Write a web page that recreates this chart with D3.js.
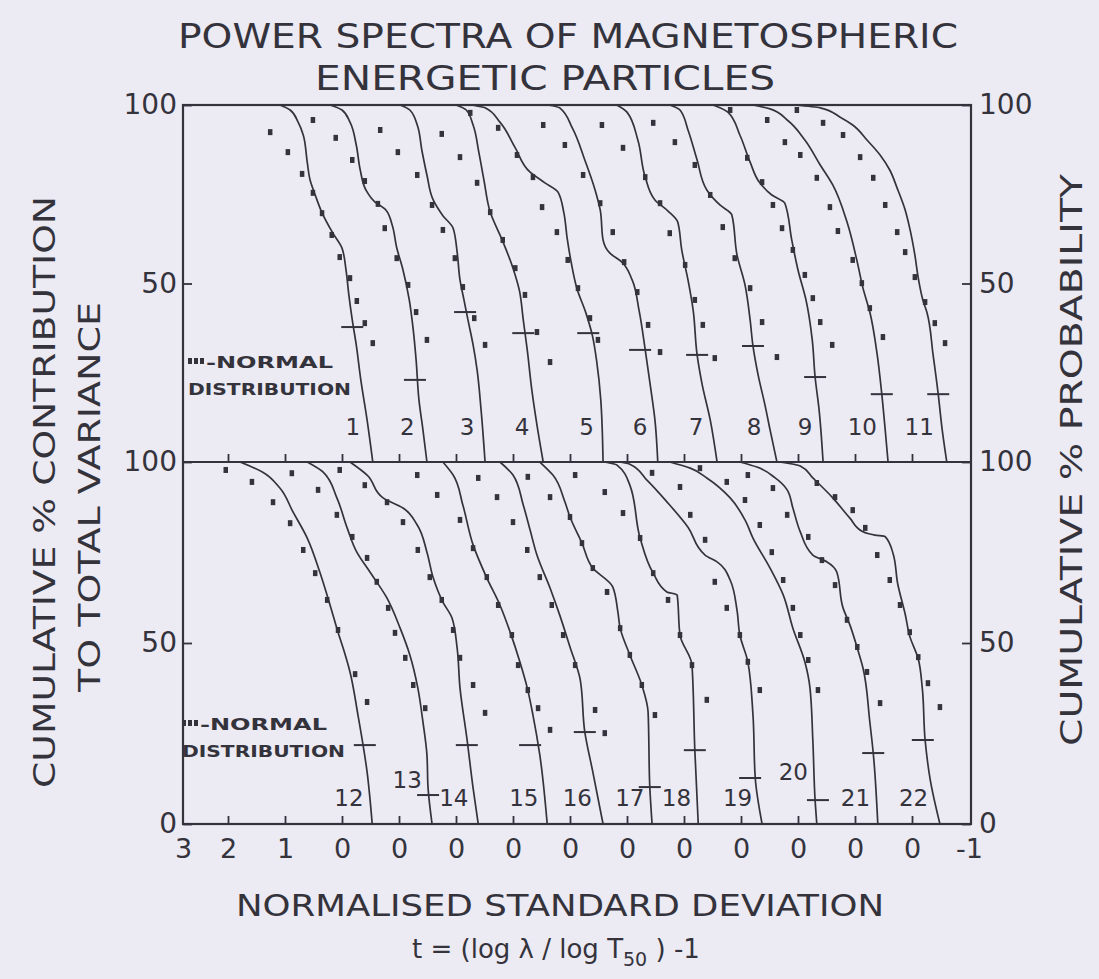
<!DOCTYPE html>
<html>
<head>
<meta charset="utf-8">
<script src="https://cdn.jsdelivr.net/npm/d3@7"></script>
<style>
body { margin: 0; background: #eceaf3; }
svg text { font-family: "DejaVu Sans", sans-serif; fill: #34333c; }
</style>
</head>
<body>
<script>
// ---- data: t = normalised standard deviation of each spectrum, pct = cumulative %
var topIds = [1, 2, 3, 4, 5, 6, 7, 8, 9, 10, 11];
var bottomIds = [12, 13, 14, 15, 16, 17, 18, 19, 20, 21, 22];

var tickValues = [3, 2, 1, 0, -1, -2, -3, -4, -5, -6, -7, -8, -9, -10, -11];
var tickLabels = ['3', '2', '1', '0', '0', '0', '0', '0', '0', '0', '0', '0', '0', '0', '-1'];
var pctTicksTop = [100, 50];
var pctTicksBottom = [100, 50, 0];

var topLines = [
    [[1.09,100],[0.91,98.6],[0.77,95.2],[0.68,91.6],[0.61,84.0],[0.56,79.0],[0.47,74.8],[0.35,69.8],[0.16,64.1],[0,59.9],[-0.07,53.8],[-0.12,46.8],[-0.18,39.8],[-0.25,32.8],[-0.33,23.0],[-0.44,11.8],[-0.54,0]],
    [[1.21,100],[1.0,98.6],[0.86,95.2],[0.75,88.8],[0.68,81.8],[0.58,76.2],[0.42,72.8],[0.23,70.6],[0.12,66.4],[0.04,60.0],[-0.07,53.8],[-0.18,45.4],[-0.25,37.0],[-0.30,28.6],[-0.35,17.4],[-0.42,9.0],[-0.49,0]],
    [[0.98,100],[0.81,98.6],[0.68,94.4],[0.60,87.4],[0.51,80.4],[0.40,73.4],[0.23,69.0],[0.05,65.5],[-0.02,58.8],[-0.07,51.0],[-0.14,45.4],[-0.21,39.8],[-0.30,32.8],[-0.37,25.8],[-0.44,14.6],[-0.51,0]],
    [[1.0,100],[0.82,98.6],[0.70,94.4],[0.60,86.8],[0.51,79.0],[0.40,70.0],[0.19,62.2],[0,54.3],[-0.11,48.2],[-0.18,39.8],[-0.25,31.4],[-0.33,20.2],[-0.42,10.4],[-0.53,0]],
    [[1.72,100],[1.49,99.2],[1.23,95.2],[0.96,88.0],[0.70,81.2],[0.44,78.2],[0.21,75.6],[0.11,70.0],[0.05,62.7],[-0.02,56.0],[-0.12,48.7],[-0.28,41.7],[-0.39,35.6],[-0.47,28.0],[-0.54,17.4],[-0.58,0]],
    [[1.39,100],[1.18,99.2],[0.96,93.6],[0.74,84.6],[0.56,76.2],[0.47,70.6],[0.42,62.2],[0.30,58.5],[0.09,56.0],[-0.09,51.0],[-0.21,42.6],[-0.32,31.4],[-0.42,20.2],[-0.49,11.8],[-0.54,0]],
    [[1.18,100],[1.0,98.0],[0.81,90.2],[0.68,79.8],[0.51,73.4],[0.28,70.3],[0.11,67.2],[0.04,59.4],[-0.07,51.0],[-0.16,42.6],[-0.23,30.0],[-0.32,21.6],[-0.46,11.8],[-0.58,0]],
    [[1.25,100],[1.07,98.6],[0.93,93.0],[0.77,84.6],[0.60,76.2],[0.37,72.0],[0.16,69.2],[0.07,58.0],[-0.07,49.6],[-0.16,39.8],[-0.21,32.5],[-0.30,24.4],[-0.42,16.0],[-0.51,9.0],[-0.63,0]],
    [[1.49,100],[1.23,98.0],[1.02,91.6],[0.84,84.0],[0.67,78.2],[0.46,74.8],[0.23,72.5],[0.11,62.2],[0,53.8],[-0.14,45.4],[-0.25,34.2],[-0.30,23.8],[-0.37,14.6],[-0.44,0]],
    [[1.79,100],[1.49,98.9],[1.19,95.8],[0.88,90.2],[0.61,83.2],[0.39,77.6],[0.14,67.2],[-0.04,56.0],[-0.14,48.7],[-0.26,42.0],[-0.39,30.0],[-0.47,19.0],[-0.53,9.0],[-0.58,0]],
    [[2.05,100],[1.61,99.2],[1.26,96.6],[1.04,94.4],[0.79,90.2],[0.56,86.0],[0.39,81.8],[0.26,76.7],[0.12,70.6],[0.04,65.5],[-0.05,58.0],[-0.11,51.5],[-0.19,45.4],[-0.26,42.0],[-0.37,30.0],[-0.46,19.0],[-0.53,9.0],[-0.61,0]]
];

var topDots = [
    [[1.26,92.4],[0.95,86.8],[0.70,80.7],[0.51,75.4],[0.35,69.7],[0.18,63.6],[0.04,57.4],[-0.14,51.5],[-0.26,45.1],[-0.40,38.9],[-0.54,33.3]],
    [[1.51,95.8],[1.11,90.8],[0.82,84.6],[0.60,78.7],[0.37,72.3],[0.25,65.5],[0.04,57.1],[-0.16,49.6],[-0.30,42.0],[-0.49,34.2]],
    [[1.33,93.0],[1.02,86.8],[0.68,80.4],[0.42,72.0],[0.23,65.0],[0.02,57.1],[-0.12,49.0],[-0.32,40.3],[-0.51,32.8]],
    [[1.25,91.9],[0.93,85.4],[0.63,78.2],[0.40,70.0],[0.18,62.2],[-0.04,54.3],[-0.21,46.8],[-0.42,36.4],[-0.65,28.0]],
    [[1.75,97.8],[1.26,93.6],[0.93,86.0],[0.65,79.8],[0.49,71.4],[0.23,64.4],[0.04,56.6],[-0.14,48.7],[-0.35,40.3],[-0.49,34.2]],
    [[1.47,94.4],[1.09,88.8],[0.77,80.4],[0.47,72.5],[0.25,64.4],[0.05,56.0],[-0.18,47.6],[-0.37,38.4],[-0.58,30.8]],
    [[1.44,94.4],[1.07,88.0],[0.68,79.8],[0.42,72.5],[0.25,64.1],[-0.02,55.2],[-0.19,45.4],[-0.33,38.4],[-0.54,29.1]],
    [[1.54,95.0],[1.16,89.6],[0.81,83.2],[0.54,74.8],[0.32,65.8],[0.11,57.1],[-0.16,48.7],[-0.37,39.2],[-0.63,29.4]],
    [[1.19,98.6],[0.89,85.2],[0.63,78.4],[0.44,72.0],[0.28,65.5],[0.09,59.4],[-0.12,52.4],[-0.26,45.9],[-0.39,39.2],[-0.60,32.8]],
    [[1.54,95.8],[1.23,89.6],[0.96,86.0],[0.67,79.6],[0.44,71.4],[0.30,64.7],[0.04,56.6],[-0.12,50.1],[-0.26,43.1],[-0.49,35.0]],
    [[2.02,98.6],[1.56,95.0],[1.21,91.6],[0.91,85.4],[0.68,79.6],[0.47,72.0],[0.26,64.4],[0.12,58.8],[-0.05,51.8],[-0.23,44.8],[-0.40,38.9],[-0.58,33.3]]
];

var topMarks = [[-0.18,37.8],[-0.28,23.0],[-0.16,42.0],[-0.18,36.1],[-0.32,36.1],[-0.23,31.4],[-0.23,30.0],[-0.21,32.5],[-0.30,23.8],[-0.47,19.0],[-0.46,19.0]];

var bottomLines = [
    [[1.79,100],[1.39,97.2],[1.09,92.8],[0.86,86.2],[0.61,79.0],[0.39,69.6],[0.21,60.5],[0.07,53.0],[-0.02,48.6],[-0.14,42.0],[-0.28,30.1],[-0.44,14.4],[-0.53,0]],
    [[1.61,100],[1.33,97.2],[1.09,90.1],[0.91,81.8],[0.74,75.1],[0.51,69.6],[0.21,62.4],[-0.02,54.1],[-0.19,46.7],[-0.33,37.6],[-0.42,28.2],[-0.49,19.1],[-0.51,9.9],[-0.58,0]],
    [[1.86,100],[1.56,96.4],[1.28,90.1],[0.93,87.3],[0.68,82.6],[0.51,75.1],[0.40,68.0],[0.23,61.3],[0.07,56.9],[-0.02,48.6],[-0.07,37.6],[-0.19,23.8],[-0.30,9.9],[-0.39,0]],
    [[1.23,100],[1.05,96.4],[0.88,88.1],[0.70,77.1],[0.46,68.0],[0.23,60.5],[0.05,53.0],[-0.12,44.8],[-0.25,37.6],[-0.35,30.1],[-0.47,19.1],[-0.60,0]],
    [[1.23,100],[1.0,96.4],[0.82,88.1],[0.70,81.2],[0.58,74.3],[0.35,65.2],[0.18,57.7],[0,48.9],[-0.18,39.8],[-0.26,25.4],[-0.40,14.4],[-0.58,0]],
    [[1.53,100],[1.30,96.4],[1.09,89.0],[1.0,84.8],[0.79,77.6],[0.60,70.7],[0.25,65.5],[0.16,58.6],[0.12,54.1],[-0.05,46.7],[-0.26,38.4],[-0.37,30.9],[-0.40,10.2],[-0.44,0]],
    [[1.39,100],[1.18,99.2],[0.95,93.6],[0.77,79.0],[0.54,69.3],[0.30,64.1],[0.12,63.3],[0.07,52.2],[-0.14,43.9],[-0.19,20.4],[-0.25,0]],
    [[2.12,100],[1.95,99.4],[1.65,95.0],[1.30,89.0],[0.93,82.0],[0.63,74.3],[0.42,72.4],[0.19,67.4],[0.07,59.1],[0.02,52.2],[-0.12,44.8],[-0.21,30.1],[-0.25,12.7],[-0.37,0]],
    [[2.25,100],[1.89,98.3],[1.60,95.6],[1.19,90.1],[0.93,84.0],[0.79,79.0],[0.49,70.7],[0.26,63.3],[0.09,54.1],[-0.12,44.8],[-0.21,37.6],[-0.26,23.2],[-0.30,6.6],[-0.33,0]],
    [[2.02,100],[1.72,98.6],[1.40,95.6],[1.19,92.3],[1.09,87.3],[0.96,80.7],[0.74,74.3],[0.49,72.4],[0.32,69.6],[0.21,59.7],[0.09,55.0],[-0.04,48.6],[-0.14,43.1],[-0.26,28.2],[-0.32,19.6],[-0.40,0]],
    [[2.32,100],[1.96,98.9],[1.74,95.6],[1.39,90.1],[1.09,84.5],[0.86,80.7],[0.65,79.8],[0.47,79.4],[0.33,74.6],[0.25,66.3],[0.12,58.0],[0.04,51.9],[-0.11,45.6],[-0.18,37.6],[-0.23,23.2],[-0.32,12.2],[-0.49,0]]
];

var bottomDots = [
    [[2.05,97.8],[1.58,94.5],[1.21,88.9],[0.91,83.1],[0.68,75.7],[0.47,69.3],[0.26,61.9],[0.07,53.6],[-0.23,41.4],[-0.44,33.7]],
    [[1.88,96.9],[1.42,92.3],[1.09,85.4],[0.82,79.3],[0.56,73.5],[0.39,66.9],[0.19,59.7],[0.07,52.8],[-0.11,45.9],[-0.25,38.4],[-0.46,32.0]],
    [[2.04,97.8],[1.60,93.6],[1.21,88.9],[0.93,83.4],[0.67,75.7],[0.46,68.2],[0.25,61.9],[0.05,53.6],[-0.07,45.9],[-0.30,38.4],[-0.51,30.7]],
    [[1.68,96.4],[1.33,90.9],[0.93,84.0],[0.70,76.2],[0.46,68.2],[0.26,60.5],[0.02,52.2],[-0.09,43.9],[-0.26,37.0],[-0.44,32.0],[-0.65,26.0]],
    [[1.61,95.6],[1.28,90.3],[1.0,83.4],[0.75,75.7],[0.53,68.2],[0.32,60.5],[0.12,52.2],[-0.09,43.9],[-0.44,31.5],[-0.61,25.1]],
    [[1.74,95.9],[1.35,90.3],[1.0,84.8],[0.79,77.6],[0.60,70.7],[0.35,64.1],[0.12,54.1],[-0.05,46.7],[-0.26,38.4],[-0.49,30.1]],
    [[1.91,96.4],[1.39,91.7],[1.07,85.9],[0.77,79.0],[0.54,69.3],[0.28,61.9],[0.07,52.2],[-0.14,43.9],[-0.40,34.3]],
    [[1.56,97.0],[1.07,93.1],[0.89,85.4],[0.63,78.5],[0.46,66.9],[0.25,59.7],[0.02,52.2],[-0.12,44.8],[-0.33,37.0]],
    [[1.72,98.3],[1.25,94.5],[0.93,89.5],[0.67,82.6],[0.46,75.1],[0.26,67.4],[0.09,59.7],[-0.04,52.2],[-0.18,45.3],[-0.35,37.0]],
    [[1.88,96.4],[1.44,92.8],[1.19,85.4],[0.82,79.3],[0.58,72.9],[0.35,66.0],[0.14,56.4],[-0.04,48.9],[-0.21,42.0],[-0.44,33.4]],
    [[1.67,94.2],[1.35,90.3],[1.04,86.7],[0.82,81.8],[0.61,74.3],[0.39,67.4],[0.21,60.5],[0.04,53.0],[-0.11,46.1],[-0.28,38.9],[-0.49,32.3]]
];

var bottomMarks = [[-0.40,21.8],[-0.51,8.0],[-0.19,21.8],[-0.30,21.8],[-0.26,25.4],[-0.40,10.2],[-0.19,20.4],[-0.16,12.7],[-0.35,6.6],[-0.32,19.6],[-0.19,23.2]];

// ---- layout
var width = 1099, height = 979;
var frameLeft = 183, frameRight = 971, frameTop = 105, frameMid = 462, frameBottom = 824;
var ink = '#34333c';

var svg = d3.select('body').append('svg')
    .attr('width', width)
    .attr('height', height);

// hand-drawn axis: first interval is a bit short
var x = d3.scaleLinear().domain([3, 2, -11]).range([183, 228, 969]);
var yTop = d3.scaleLinear().domain([0, 100]).range([frameMid, frameTop]);
var yBottom = d3.scaleLinear().domain([0, 100]).range([frameBottom, frameMid]);

// frame
svg.append('rect')
    .attr('x', frameLeft).attr('y', frameTop)
    .attr('width', frameRight - frameLeft).attr('height', frameBottom - frameTop)
    .attr('fill', 'none').attr('stroke', ink).attr('stroke-width', 2.2);
svg.append('line')
    .attr('x1', frameLeft).attr('x2', frameRight).attr('y1', frameMid).attr('y2', frameMid)
    .attr('stroke', ink).attr('stroke-width', 2.2);

function styleAxis(g, size) {
    g.select('.domain').remove();
    g.selectAll('line').attr('stroke', ink).attr('stroke-width', 1.8);
    g.selectAll('text')
        .attr('font-size', size)
        .attr('fill', ink)
        .style('font-family', '"DejaVu Sans", sans-serif');
}

// bottom axis with the stacked zero labels
var xAxis = d3.axisBottom(x)
    .tickValues(tickValues)
    .tickFormat(function (d, i) { return tickLabels[i]; })
    .tickSize(-8)
    .tickPadding(15);
var gx = svg.append('g').attr('transform', 'translate(0,' + frameBottom + ')').call(xAxis);
styleAxis(gx, 27);
gx.selectAll('.tick').filter(function (d) { return d === 3 || d === -11; })
    .select('line').remove();

// ticks on the dividing line
var gxMid = svg.append('g').attr('transform', 'translate(0,' + frameMid + ')')
    .call(d3.axisBottom(x).tickValues(tickValues.slice(1, -1)).tickSize(-8).tickFormat(''));
styleAxis(gxMid, 0);

// left and right percentage axes
[[yTop, pctTicksTop], [yBottom, pctTicksBottom]].forEach(function (p) {
    var gl = svg.append('g').attr('transform', 'translate(' + frameLeft + ',0)')
        .call(d3.axisLeft(p[0]).tickValues(p[1]).tickSize(-9).tickPadding(6));
    styleAxis(gl, 28);
    var gr = svg.append('g').attr('transform', 'translate(' + frameRight + ',0)')
        .call(d3.axisRight(p[0]).tickValues(p[1]).tickSize(-9).tickPadding(8));
    styleAxis(gr, 28);
});

// curve helpers
function tAt(line, p) {
    for (var i = 1; i < line.length; i++) {
        if (line[i][1] <= p) {
            var a = line[i - 1], b = line[i];
            return a[0] + (b[0] - a[0]) * (a[1] - p) / (a[1] - b[1]);
        }
    }
    return line[line.length - 1][0];
}

function drawPanel(ids, lines, dots, marks, y, labelPct, labelGap) {
    var g = svg.append('g');
    ids.forEach(function (id, i) {
        var px = function (d) { return x(d[0] - i); };
        var line = d3.line()
            .x(px)
            .y(function (d) { return y(d[1]); })
            .curve(d3.curveMonotoneY);

        g.append('path')
            .datum(lines[i])
            .attr('d', line)
            .attr('fill', 'none')
            .attr('stroke', ink)
            .attr('stroke-width', 1.7);

        g.selectAll(null)
            .data(dots[i])
            .enter()
            .append('rect')
            .attr('x', function (d) { return px(d) - 2.25; })
            .attr('y', function (d) { return y(d[1]) - 3; })
            .attr('width', 4.5)
            .attr('height', 6)
            .attr('fill', ink);

        var m = marks[i];
        g.append('line')
            .attr('x1', px(m) - 11).attr('x2', px(m) + 11)
            .attr('y1', y(m[1])).attr('y2', y(m[1]))
            .attr('stroke', ink).attr('stroke-width', 2);

        var lp = labelPct(id);
        g.append('text')
            .attr('x', x(tAt(lines[i], lp) - i) - labelGap)
            .attr('y', y(lp))
            .attr('dy', '0.36em')
            .attr('text-anchor', 'end')
            .attr('font-size', 23)
            .text(id);
    });
}

drawPanel(topIds, topLines, topDots, topMarks, yTop, function () { return 9.8; }, 8);
drawPanel(bottomIds, bottomLines, bottomDots, bottomMarks, yBottom, function (id) {
    if (id === 13) return 12.2;
    if (id === 20) return 14.4;
    return 7.2;
}, 6);

// legends
function legend(px, py) {
    var g = svg.append('g');
    [0, 6, 12].forEach(function (dx) {
        g.append('rect').attr('x', px + dx).attr('y', py - 10).attr('width', 4).attr('height', 6).attr('fill', ink);
    });
    g.append('text').attr('x', px + 18).attr('y', py)
        .attr('font-size', 16).attr('font-weight', 'bold')
        .attr('textLength', 127).attr('lengthAdjust', 'spacingAndGlyphs')
        .text('-NORMAL');
    g.append('text').attr('x', px).attr('y', py + 27)
        .attr('font-size', 16).attr('font-weight', 'bold')
        .attr('textLength', 163).attr('lengthAdjust', 'spacingAndGlyphs')
        .text('DISTRIBUTION');
}
legend(188, 368);
legend(182, 730);

// titles
function label(txt, cx, cy, size, len, rotate) {
    svg.append('text')
        .attr('transform', 'translate(' + cx + ',' + cy + ')' + (rotate ? ' rotate(-90)' : ''))
        .attr('text-anchor', 'middle')
        .attr('font-size', size)
        .attr('textLength', len)
        .attr('lengthAdjust', 'spacingAndGlyphs')
        .text(txt);
}
label('POWER SPECTRA OF MAGNETOSPHERIC', 568, 48, 34, 780, false);
label('ENERGETIC PARTICLES', 545, 90, 34, 460, false);
label('CUMULATIVE % CONTRIBUTION', 55, 492, 31, 592, true);
label('TO TOTAL VARIANCE', 100, 497, 31, 390, true);
label('CUMULATIVE % PROBABILITY', 1082, 460, 31, 572, true);
label('NORMALISED  STANDARD  DEVIATION', 560, 916, 30, 648, false);

var formula = svg.append('text')
    .attr('x', 412).attr('y', 958)
    .attr('font-size', 26);
formula.append('tspan').text('t = (log \u03bb / log T');
formula.append('tspan').attr('dy', 8).attr('font-size', 19).text('50');
formula.append('tspan').attr('dy', -8).text(' ) -1');
</script>
</body>
</html>
